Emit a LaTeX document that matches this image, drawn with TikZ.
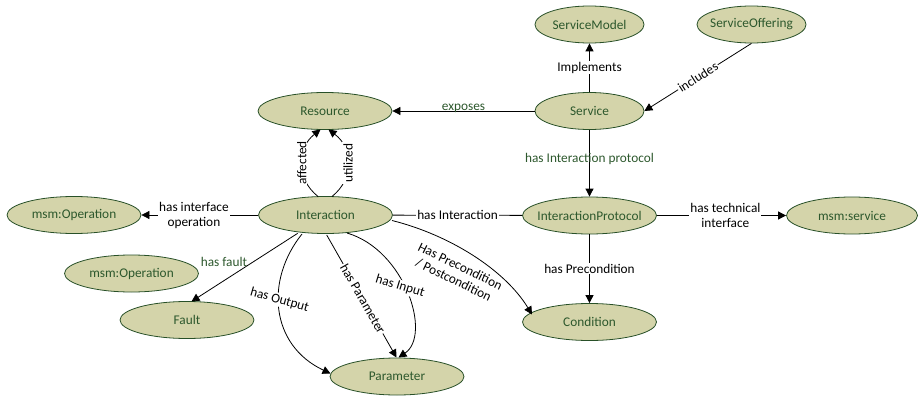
\documentclass[tikz,border=0pt]{standalone}
\usepackage{fontspec}
\setmainfont{Carlito}
\usetikzlibrary{shapes.geometric,arrows.meta}
\definecolor{entfill}{RGB}{212,212,170}
\definecolor{entdraw}{RGB}{40,80,40}
\definecolor{enttext}{RGB}{45,88,45}
\newcommand\zc[1]{\makebox[0pt]{#1}}
\tikzset{
  ent/.style={ellipse, draw=entdraw, fill=entfill, line width=0.8pt, text=enttext,
    minimum width=134pt, minimum height=37pt, inner sep=0pt, font=\fontsize{13.3}{15}\selectfont},
  entS/.style={ent, minimum width=109pt},
  arr/.style={-{Triangle[length=8pt,width=8pt]}, line width=0.8pt, black},
  ln/.style={line width=0.8pt, black},
  lbl/.style={fill=white, inner sep=1pt, font=\fontsize{13.3}{15}\selectfont, align=center},
  glbl/.style={inner sep=1pt, text=enttext, font=\fontsize{13.3}{15}\selectfont}
}
\begin{document}
\begin{tikzpicture}[x=1pt,y=-1pt]
\useasboundingbox (0,0) rectangle (921,396);
% nodes
\node[entS] (smodel) at (589.5,24.5) {\zc{ServiceModel}};
\node[entS] (soffer) at (751.5,24.5) {\zc{ServiceOffering}};
\node[entS] (service) at (589.5,111) {\zc{Service}};
\node[ent] (resource) at (325,111) {\zc{Resource}};
\node[ent] (inter) at (325.5,215) {\zc{Interaction}};
\node[ent] (msmop) at (74,215) {\zc{msm:Operation}};
\node[ent] (msmop2) at (131.5,273.5) {\zc{msm:Operation}};
\node[ent] (fault) at (187,320) {\zc{Fault}};
\node[ent] (param) at (397,376.5) {\zc{Parameter}};
\node[ent] (iprot) at (589.5,215.5) {\zc{InteractionProtocol}};
\node[ent, minimum width=131pt] (msmsvc) at (852,215.5) {\zc{msm:service}};
\node[ent] (cond) at (589.5,322) {\zc{Condition}};
% connectors
\draw[arr] (service) -- node[lbl, pos=0.5] {Implements} (smodel);
\draw[arr] (soffer.south) -- node[lbl, sloped, pos=0.5] {includes} (service.east);
\draw[arr] (service) -- node[glbl, above, pos=0.5, yshift=-3pt] {exposes} (resource);
\draw[arr] (service) -- (iprot);
\node[glbl] (lhip) at (589.5,159) {has Interaction protocol};
\draw[arr] (inter) -- node[lbl, pos=0.55] {has interface\\operation} (msmop);
\draw[ln] (inter) -- node[lbl, pos=0.5] {has Interaction} (iprot);
\draw[arr] (iprot) -- node[lbl, pos=0.53] {has technical\\interface} (msmsvc);
\draw[arr] (iprot) -- node[lbl, pos=0.5] {has Precondition} (cond);
% affected / utilized
\coordinate (aS) at (318,196.5);
\coordinate (aE) at (320.5,129.5);
\coordinate (uS) at (332,196.5);
\coordinate (uE) at (328.5,129.5);
\draw[arr] (aS) .. controls (295,178) and (297,148) .. node[lbl, rotate=90, pos=0.5] {affected} (aE);
\draw[arr] (uS) .. controls (355,178) and (353,148) .. node[lbl, rotate=90, pos=0.5] {utilized} (uE);
% fault
\coordinate (fS) at (297.7,233.3);
\coordinate (fE) at (191.5,301.5);
\draw[arr] (fS) -- (fE);
\node[glbl] (lfault) at (224,261.5) {has fault};
% has Output
\coordinate (oS) at (302,234);
\coordinate (oE) at (330.5,373.5);
\draw[arr] (oS) .. controls (265,280) and (270,345) .. (oE);
\node[lbl, rotate=-16] (lout) at (279.5,300) {has Output};
% has Parameter
\coordinate (pS) at (326.7,235);
\coordinate (pE) at (396.5,357.5);
\draw[arr] (pS) -- node[lbl, sloped, pos=0.52] {has Parameter} (pE);
% has Input
\coordinate (iS) at (347,233);
\coordinate (iE) at (398.5,357.5);
\draw[arr] (iS) .. controls (405,250) and (432,335) .. (iE);
\node[lbl, rotate=-17] (linp) at (400,286.5) {has Input};
% has Precondition / Postcondition
\coordinate (cS) at (392,220.5);
\coordinate (cE) at (532,314.5);
\draw[arr] (cS) .. controls (450,235) and (505,270) .. (cE);
\node[lbl, rotate=-26, inner sep=0.5pt] (lpre) at (457,273) {Has Precondition\\/ Postcondition};
\end{tikzpicture}
\end{document}
